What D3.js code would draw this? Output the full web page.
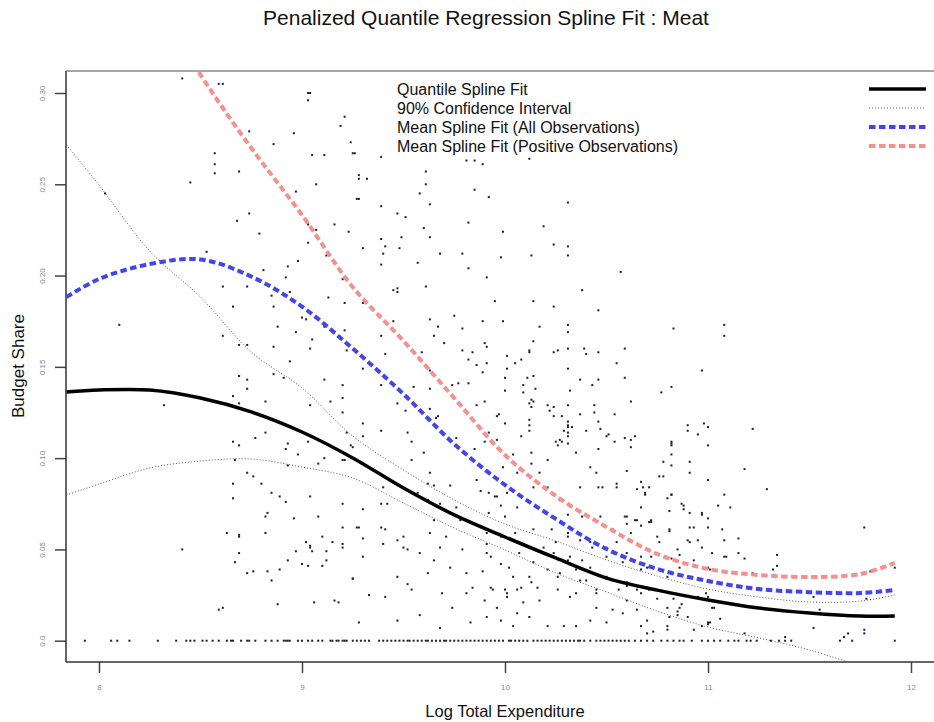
<!DOCTYPE html>
<html>
<head>
<meta charset="utf-8">
<script src="https://cdn.jsdelivr.net/npm/d3@7"></script>
<style>
body { margin: 0; background: #fff; }
svg { display: block; font-family: "Liberation Sans", Arial, sans-serif; }
</style>
</head>
<body>
<div id="chart"></div>
<script>
var WIDTH = 934, HEIGHT = 722;

var chartTitle = 'Penalized Quantile Regression Spline Fit : Meat';
var xLabel = 'Log Total Expenditure';
var yLabel = 'Budget Share';

var xTicks = [8, 9, 10, 11, 12];
var yTicks = [0, 0.05, 0.10, 0.15, 0.20, 0.25, 0.30];
var yTickLabels = ['0.0', '0.05', '0.10', '0.15', '0.20', '0.25', '0.30'];

var fitX = [7.84, 8.0, 8.25, 8.5, 8.75, 9.0, 9.25, 9.5, 9.75, 10.0, 10.25, 10.5, 10.75, 11.0, 11.25, 11.5, 11.75, 11.92];
var quantileFit = [0.1362, 0.1373, 0.1373, 0.1329, 0.1253, 0.1143, 0.1001, 0.0836, 0.0689, 0.0568, 0.0453, 0.0343, 0.0277, 0.0223, 0.0179, 0.0152, 0.0135, 0.0135];
var ciUpper = [0.2715, 0.2496, 0.2134, 0.1882, 0.1581, 0.1384, 0.1121, 0.0935, 0.0771, 0.0639, 0.0546, 0.0442, 0.0354, 0.0283, 0.0239, 0.0212, 0.0217, 0.0250];
var ciLower = [0.0798, 0.0858, 0.0946, 0.0984, 0.0995, 0.0951, 0.0891, 0.0754, 0.0617, 0.0497, 0.0371, 0.0267, 0.0162, 0.0075, 0.0015, -0.0051, -0.0139, -0.0199];
var meanAll = [0.1882, 0.1981, 0.2063, 0.2088, 0.1995, 0.1830, 0.1600, 0.1351, 0.1077, 0.0853, 0.0667, 0.0502, 0.0393, 0.0327, 0.0283, 0.0266, 0.0261, 0.0278];
var meanPositive = [0.44, 0.40, 0.356, 0.3100, 0.2699, 0.2332, 0.1937, 0.1642, 0.1329, 0.1017, 0.0793, 0.0623, 0.0475, 0.0393, 0.0360, 0.0349, 0.0365, 0.0426];

var legendLabels = ['Quantile Spline Fit', '90% Confidence Interval', 'Mean Spline Fit (All Observations)', 'Mean Spline Fit (Positive Observations)'];

// households with zero meat share (log expenditure only)
var zeroObs = [7.93, 8.06, 8.09, 8.15, 8.29, 8.38, 8.43, 8.45, 8.47, 8.51, 8.53, 8.56, 8.59, 8.63, 8.65, 8.66, 8.70, 8.73, 8.74, 8.77,
    8.82, 8.85, 8.88, 8.91, 8.92, 8.93, 8.94, 8.98, 9.00, 9.03, 9.05, 9.08, 9.10, 9.14, 9.15, 9.17, 9.18, 9.20, 9.21, 9.22,
    9.25, 9.27, 9.29, 9.31, 9.33, 9.38, 9.40, 9.42, 9.44, 9.46, 9.48, 9.50, 9.52, 9.53, 9.55, 9.57, 9.59, 9.61, 9.62, 9.64,
    9.66, 9.68, 9.70, 9.71, 9.73, 9.75, 9.77, 9.79, 9.81, 9.83, 9.85, 9.87, 9.89, 9.91, 9.93, 9.95, 9.97, 9.99, 10.02, 10.03,
    10.05, 10.07, 10.09, 10.11, 10.14, 10.16, 10.18, 10.20, 10.22, 10.24, 10.26, 10.28, 10.30, 10.32, 10.34, 10.36, 10.37, 10.39,
    10.42, 10.45, 10.47, 10.49, 10.51, 10.53, 10.55, 10.57, 10.59, 10.61, 10.64, 10.67, 10.70, 10.73, 10.77, 10.80, 10.83, 10.86,
    10.88, 10.92, 10.97, 11.00, 11.03, 11.06, 11.10, 11.13, 11.15, 11.19, 11.21, 11.24, 11.31, 11.35, 11.38, 11.41, 11.65, 11.71, 11.92];

// households with positive meat share: [log expenditure, budget share]
var positiveObs = [
    [9.25,0.267],[9.39,0.265],[9.81,0.263],[9.85,0.263],[9.89,0.261],[10.12,0.264],[9.28,0.253],[9.32,0.253],[9.61,0.257],[9.61,0.250],
    [9.58,0.245],[9.85,0.247],[9.92,0.243],[9.27,0.242],[9.39,0.238],[9.63,0.239],[10.31,0.240],[9.47,0.234],[9.51,0.232],[9.82,0.229],
    [9.60,0.226],[10.19,0.227],[9.99,0.224],[9.49,0.221],[9.63,0.221],[9.39,0.220],[9.41,0.216],[9.30,0.215],[9.48,0.215],[9.40,0.212],
    [9.68,0.212],[9.79,0.212],[10.13,0.211],[10.24,0.217],[10.31,0.216],[10.31,0.211],[9.98,0.210],[9.39,0.206],[9.57,0.207],[9.82,0.204],
    [9.91,0.199],[10.57,0.202],[9.61,0.194],[9.45,0.192],[9.47,0.193],[9.47,0.191],[10.38,0.192],[9.95,0.186],[10.14,0.186],[9.30,0.185],
    [10.24,0.183],[10.46,0.181],[9.75,0.178],[9.63,0.176],[9.45,0.175],[9.89,0.175],[9.99,0.175],[9.67,0.172],[9.79,0.171],[10.17,0.172],
    [10.31,0.173],[10.31,0.169],[10.83,0.171],[11.08,0.173],[11.08,0.167],[9.39,0.167],[9.65,0.167],[10.14,0.164],[9.70,0.163],[9.90,0.163],
    [9.91,0.161],[10.12,0.159],[10.12,0.158],[10.24,0.158],[10.26,0.159],[10.31,0.160],[10.39,0.160],[10.40,0.157],[10.46,0.158],[10.59,0.160],
    [9.41,0.157],[9.59,0.158],[9.79,0.159],[9.84,0.158],[10.01,0.156],[9.82,0.154],[9.86,0.151],[9.91,0.152],[10.05,0.152],[10.08,0.154],
    [10.55,0.152],[9.30,0.149],[10.01,0.149],[10.31,0.149],[10.97,0.148],[9.63,0.148],[9.89,0.147],[10.00,0.144],[10.11,0.144],[10.14,0.145],
    [10.37,0.143],[10.46,0.143],[10.59,0.144],[9.39,0.140],[9.55,0.139],[9.63,0.138],[9.74,0.140],[9.77,0.141],[9.82,0.141],[10.09,0.140],
    [10.15,0.138],[10.43,0.140],[10.82,0.139],[10.77,0.136],[10.00,0.137],[10.32,0.137],[10.09,0.136],[9.47,0.130],[9.90,0.131],[9.86,0.129],
    [10.13,0.132],[10.12,0.130],[10.14,0.131],[10.13,0.128],[10.21,0.129],[10.24,0.128],[10.31,0.129],[10.44,0.129],[10.62,0.131],[9.63,0.127],
    [9.51,0.126],[10.44,0.125],[10.37,0.124],[10.54,0.124],[9.96,0.123],[9.97,0.124],[9.67,0.123],[9.66,0.122],[10.24,0.123],[10.28,0.123],
    [10.46,0.120],[10.47,0.116],[9.30,0.119],[10.00,0.119],[10.12,0.118],[10.12,0.115],[10.31,0.120],[10.31,0.118],[10.31,0.117],[10.33,0.117],
    [10.29,0.115],[10.31,0.114],[10.31,0.112],[10.40,0.115],[10.90,0.118],[10.90,0.115],[10.98,0.119],[11.00,0.117],[10.95,0.113],[11.22,0.116],
    [9.39,0.115],[9.52,0.114],[9.30,0.112],[9.92,0.114],[10.50,0.112],[10.51,0.113],[10.59,0.111],[10.62,0.110],[10.64,0.112],[10.08,0.112],
    [9.76,0.111],[9.54,0.109],[9.90,0.109],[9.96,0.110],[10.25,0.109],[10.28,0.109],[10.26,0.107],[10.31,0.108],[10.54,0.109],[10.82,0.108],
    [10.82,0.107],[11.00,0.107],[10.62,0.106],[10.46,0.105],[9.85,0.105],
    [8.41,0.308],[8.59,0.305],[8.61,0.305],[9.03,0.300],[9.04,0.300],[9.03,0.296],[9.21,0.287],[9.19,0.282],[8.74,0.279],[8.96,0.278],
    [8.86,0.272],[9.24,0.273],[9.26,0.267],[8.57,0.267],[8.57,0.261],[8.57,0.256],[9.05,0.266],[9.11,0.266],[8.69,0.257],[9.28,0.255],
    [8.45,0.251],[9.07,0.250],[8.03,0.245],[8.97,0.246],[9.28,0.242],[8.74,0.234],[8.68,0.230],[9.03,0.228],[9.07,0.225],[9.16,0.228],
    [9.23,0.224],[8.79,0.223],[9.03,0.218],[8.53,0.213],[9.12,0.211],[8.98,0.208],[8.93,0.205],[8.81,0.203],[8.51,0.209],[8.92,0.199],
    [8.61,0.194],[8.73,0.194],[9.20,0.198],[8.85,0.189],[8.94,0.191],[8.92,0.189],[9.13,0.188],[9.21,0.185],[8.66,0.183],[8.86,0.183],
    [8.10,0.173],[9.00,0.177],[9.02,0.176],[8.88,0.172],[8.97,0.169],[9.21,0.170],[9.11,0.172],[9.05,0.165],[8.61,0.167],[8.69,0.162],
    [8.73,0.162],[8.86,0.161],[9.04,0.160],[9.22,0.159],
    [8.94,0.153],[8.69,0.145],[8.73,0.143],[8.86,0.146],[8.91,0.144],[9.11,0.143],[9.20,0.140],[8.73,0.138],[8.66,0.134],[8.69,0.130],
    [8.32,0.129],[8.82,0.131],[9.20,0.133],[9.14,0.131],[9.04,0.129],[9.20,0.125],[9.22,0.114],[8.82,0.114],[8.77,0.111],[8.66,0.109],
    [8.69,0.107],[9.03,0.109],[8.93,0.108],[8.92,0.105],[8.98,0.102],[9.24,0.107],[9.11,0.100],[8.67,0.099],[9.20,0.099],[9.21,0.099],
    [9.08,0.097],[8.93,0.096],[8.73,0.092],[8.76,0.090],[8.66,0.086],[8.80,0.086],[8.85,0.081],[8.89,0.079],[8.92,0.076],[9.04,0.079],
    [8.66,0.078],[9.20,0.075],[9.08,0.068],[8.96,0.067],[8.82,0.068],[8.83,0.070],[9.28,0.062],[9.20,0.062],[8.63,0.059],[8.82,0.059],
    [8.69,0.058],[8.69,0.057],[9.10,0.057],[9.02,0.054],[9.04,0.052],[9.05,0.049],[9.04,0.051],[9.15,0.054],[9.20,0.053],[9.20,0.051],
    [8.97,0.049],[9.12,0.049],[8.69,0.048],[8.41,0.050],[8.93,0.044],[9.12,0.044],[8.67,0.043],[9.00,0.042],[9.03,0.041],[9.10,0.041],
    [8.89,0.039],[8.73,0.037],[8.76,0.038],[8.83,0.038],[8.85,0.033],[9.25,0.034],[8.88,0.020],[9.06,0.021],[9.16,0.022],[9.18,0.021],
    [8.61,0.018],[8.59,0.017],[9.28,0.010],
    [9.30,0.072],[9.27,0.062],[9.30,0.056],[9.40,0.084],[9.39,0.075],[9.42,0.075],[9.39,0.062],[9.41,0.061],[9.30,0.046],[9.40,0.053],
    [9.47,0.055],[9.50,0.057],[9.50,0.051],[9.52,0.050],[9.47,0.035],[9.52,0.031],[9.54,0.028],[9.33,0.025],[9.41,0.024],[9.57,0.081],
    [9.62,0.086],[9.65,0.085],[9.62,0.077],[9.68,0.075],[9.76,0.073],[9.78,0.066],[9.65,0.066],[9.63,0.059],[9.71,0.057],[9.68,0.051],
    [9.79,0.050],[9.65,0.044],[9.73,0.040],[9.81,0.037],[9.84,0.029],[9.69,0.026],[9.62,0.037],[9.58,0.048],[9.25,0.034],[9.25,0.106],
    [9.60,0.103],[9.54,0.099],[9.63,0.092],[9.73,0.085],[9.86,0.088],[9.92,0.081],[9.96,0.079],[10.01,0.081],[10.01,0.101],[10.04,0.102],
    [9.99,0.095],[10.06,0.092],[10.13,0.097],[10.17,0.092],[10.21,0.099],[10.13,0.103],[10.12,0.121],[10.22,0.126],[10.27,0.110],[10.35,0.103],
    [10.42,0.095],[10.45,0.092],[10.48,0.084],[10.55,0.086],[10.60,0.093],[10.65,0.083],[10.67,0.073],[10.69,0.081],[10.60,0.068],[10.60,0.064],
    [10.53,0.061],[10.47,0.068],[10.38,0.068],[10.31,0.059],[10.24,0.048],[10.26,0.035],[10.12,0.035],[10.16,0.029],[10.02,0.040],[10.06,0.028],
    [10.01,0.026],[9.93,0.029],[9.93,0.046],[9.91,0.053],[9.81,0.026],[10.35,0.026],[10.45,0.028],[10.53,0.033],[10.60,0.030],[10.67,0.026],
    [10.31,0.044],[10.38,0.044],[10.60,0.048],[10.50,0.051],[10.42,0.054],[10.37,0.033],
    [10.82,0.109],[10.82,0.102],[10.78,0.098],[10.91,0.098],[10.82,0.096],[10.91,0.092],[11.18,0.094],[11.00,0.088],[10.67,0.087],[10.71,0.084],
    [10.78,0.090],[10.76,0.090],[10.69,0.080],[11.08,0.080],[11.29,0.083],[10.87,0.075],[10.88,0.072],[10.80,0.078],[10.82,0.080],[10.81,0.071],
    [11.05,0.074],[11.11,0.073],[10.97,0.069],[10.72,0.066],[10.71,0.065],[10.65,0.066],[10.67,0.063],[10.81,0.061],[10.91,0.062],[10.93,0.062],
    [11.00,0.062],[11.07,0.061],[11.15,0.056],[10.75,0.057],[10.90,0.055],[10.91,0.054],[11.08,0.055],[10.97,0.051],[11.77,0.062],[11.34,0.047],
    [11.34,0.041],[11.15,0.048],[11.18,0.045],[11.08,0.046],[11.09,0.046],[11.32,0.039],[11.22,0.037],[10.82,0.045],[10.86,0.047],[10.67,0.046],
    [10.72,0.046],[10.70,0.040],[11.00,0.040],[11.01,0.039],[11.52,0.024],[11.55,0.017],[11.80,0.038],[11.92,0.040],[11.78,0.023],[11.52,0.007],
    [11.67,0.002],[11.69,0.004],[11.77,0.006],[11.77,0.004],[11.06,0.012],[11.01,0.010],[11.00,0.009],[10.97,0.008],[10.93,0.006],[11.38,0.002],
    [11.18,0.004],[10.81,0.013],[10.85,0.014],[10.67,0.008],[10.73,0.005],[10.80,0.006],[10.70,0.004],[10.87,0.020],[10.83,0.023],[10.80,0.018],
    [10.85,0.016],[10.99,0.026],[11.00,0.024],[11.02,0.018],[11.03,0.018],
    [9.88,0.082],[9.95,0.079],[9.92,0.070],[10.00,0.068],[9.98,0.074],[10.06,0.073],[10.14,0.084],[10.21,0.084],[10.27,0.077],[10.31,0.069],
    [10.37,0.084],[10.46,0.084],[10.55,0.084],[10.59,0.068],[10.64,0.066],[10.72,0.065],[10.81,0.060],[10.88,0.074],[10.97,0.070],[11.00,0.067],
    [10.91,0.070],[10.68,0.084],[10.82,0.080],[9.89,0.038],[9.91,0.048],[9.98,0.042],[10.00,0.028],[10.04,0.035],[10.08,0.029],[10.13,0.032],
    [10.19,0.051],[10.21,0.039],[10.25,0.054],[10.32,0.046],[10.35,0.039],[10.40,0.033],[10.45,0.026],[10.50,0.035],[10.56,0.028],[10.60,0.032],
    [10.60,0.022],[10.65,0.017],[10.71,0.028],[10.75,0.023],[10.81,0.026],[10.86,0.018],[10.95,0.024],[11.02,0.022],[11.00,0.010],[10.90,0.013],
    [10.80,0.008],[10.70,0.011],[10.58,0.015],[10.50,0.010],[10.42,0.011],[10.35,0.008],[10.29,0.008],[10.21,0.008],[10.12,0.013],[10.06,0.015],
    [9.96,0.018],[9.91,0.013],[10.32,0.024],[10.26,0.028],[10.17,0.022],[10.09,0.021],[10.01,0.024],[9.94,0.028],[9.90,0.022],[10.04,0.008],
    [9.98,0.011],[10.45,0.018],[10.53,0.017],[10.65,0.028],[10.80,0.035],[10.86,0.040],[10.93,0.044],[10.73,0.040],[10.67,0.039],[10.58,0.043],
    [10.50,0.046],[10.43,0.051],[10.37,0.055],[10.31,0.057],[10.23,0.061],[10.14,0.061],[10.05,0.059],[9.98,0.057],[9.91,0.059],[10.07,0.048],
    [10.14,0.043],[10.27,0.037],[10.42,0.040],[10.55,0.054],[10.62,0.059],[10.76,0.054],[10.85,0.050],[10.95,0.055],[11.02,0.048],
    [9.58,0.014],[9.74,0.018],[9.83,0.010],[9.68,0.007],[9.47,0.011]
];

// plot frame (right side runs past the picture edge)
var margin = {left: 66, top: 71, bottom: 662, right: 944};

var x = d3.scaleLinear().domain([8, 12]).range([99, 911]);
var y = d3.scaleLinear().domain([0, 0.30]).range([640.7, 93]);

var svg = d3.select('#chart')
    .append('svg')
    .attr('width', WIDTH)
    .attr('height', HEIGHT);

svg.append('defs').append('clipPath')
    .attr('id', 'plotClip')
    .append('rect')
    .attr('x', margin.left)
    .attr('y', margin.top)
    .attr('width', margin.right - margin.left)
    .attr('height', margin.bottom - margin.top);

// title and axis labels
svg.append('text')
    .attr('x', 486)
    .attr('y', 25)
    .attr('text-anchor', 'middle')
    .style('font-size', '21px')
    .style('fill', '#111')
    .text(chartTitle);

svg.append('text')
    .attr('x', 505)
    .attr('y', 717)
    .attr('text-anchor', 'middle')
    .style('font-size', '16.5px')
    .style('fill', '#111')
    .text(xLabel);

svg.append('text')
    .attr('transform', 'translate(24,366) rotate(-90)')
    .attr('text-anchor', 'middle')
    .style('font-size', '17px')
    .style('fill', '#111')
    .text(yLabel);

// axes (ticks sit outside the box)
var yAxis = svg.append('g')
    .attr('transform', 'translate(' + margin.left + ',0)')
    .call(d3.axisLeft(y)
        .tickValues(yTicks)
        .tickSize(11)
        .tickFormat(function(d, i) { return yTickLabels[i]; }));
yAxis.select('.domain').remove();
yAxis.selectAll('.tick line').style('stroke', '#444').style('stroke-width', 1.5);
yAxis.selectAll('.tick text')
    .attr('x', 0)
    .attr('y', -24)
    .attr('dy', '0.35em')
    .attr('transform', 'rotate(-90)')
    .attr('text-anchor', 'middle')
    .style('font-size', '8px')
    .style('fill', '#888');

var xAxis = svg.append('g')
    .attr('transform', 'translate(0,' + margin.bottom + ')')
    .call(d3.axisBottom(x).tickValues(xTicks).tickSize(11).tickFormat(d3.format('d')));
xAxis.select('.domain').remove();
xAxis.selectAll('.tick line').style('stroke', '#444').style('stroke-width', 1.5);
xAxis.selectAll('.tick text')
    .attr('y', 25)
    .attr('dy', '0.35em')
    .style('font-size', '8px')
    .style('fill', '#888');

// box
var box = svg.append('g').classed('box', true);
box.append('line')
    .attr('x1', margin.left).attr('y1', margin.top)
    .attr('x2', margin.right).attr('y2', margin.top)
    .style('stroke', '#888').style('stroke-width', 1.5);
box.append('line')
    .attr('x1', margin.left).attr('y1', margin.top)
    .attr('x2', margin.left).attr('y2', margin.bottom)
    .style('stroke', '#333').style('stroke-width', 1.5);
box.append('line')
    .attr('x1', margin.left).attr('y1', margin.bottom)
    .attr('x2', margin.right).attr('y2', margin.bottom)
    .style('stroke', '#333').style('stroke-width', 1.5);

var plot = svg.append('g').attr('clip-path', 'url(#plotClip)');

// observations
plot.append('g').selectAll('rect.obs')
    .data(positiveObs)
    .enter()
    .append('rect')
    .classed('obs', true)
    .attr('x', function(d) { return x(d[0]) - 1; })
    .attr('y', function(d) { return y(d[1]) - 1; })
    .attr('width', 2)
    .attr('height', 2)
    .style('fill', '#1c1c30');

plot.append('g').selectAll('rect.zero')
    .data(zeroObs)
    .enter()
    .append('rect')
    .classed('zero', true)
    .attr('x', function(d) { return x(d) - 1; })
    .attr('y', y(0) - 1)
    .attr('width', 2)
    .attr('height', 2)
    .style('fill', '#1c1c30');

// fitted curves
var curveStyles = [
    {values: ciUpper, stroke: '#555', width: 1, dash: '1,2'},
    {values: ciLower, stroke: '#555', width: 1, dash: '1,2'},
    {values: meanPositive, stroke: '#f4908e', width: 4, dash: '6.5,3.5'},
    {values: meanAll, stroke: '#4444ec', width: 4, dash: '6.5,3.5'},
    {values: quantileFit, stroke: '#000', width: 3.5, dash: null}
];

var line = d3.line()
    .x(function(d) { return x(d[0]); })
    .y(function(d) { return y(d[1]); })
    .curve(d3.curveCatmullRom.alpha(0.5));

curveStyles.forEach(function(c) {
    var pts = fitX.map(function(v, i) { return [v, c.values[i]]; });
    plot.append('path')
        .datum(pts)
        .attr('d', line)
        .style('fill', 'none')
        .style('stroke', c.stroke)
        .style('stroke-width', c.width)
        .style('stroke-dasharray', c.dash);
});

// legend (no frame)
var legendStyles = [curveStyles[4], curveStyles[0], curveStyles[3], curveStyles[2]];
var legend = svg.append('g').classed('legend', true);
legendLabels.forEach(function(label, i) {
    var cy = 89 + i * 19;
    legend.append('text')
        .attr('x', 397)
        .attr('y', cy)
        .attr('dy', '0.35em')
        .style('font-size', '16px')
        .style('fill', '#111')
        .text(label);
    legend.append('line')
        .attr('x1', 869).attr('x2', 926)
        .attr('y1', cy).attr('y2', cy)
        .style('stroke', legendStyles[i].stroke)
        .style('stroke-width', legendStyles[i].width)
        .style('stroke-dasharray', legendStyles[i].dash);
});
</script>
</body>
</html>
